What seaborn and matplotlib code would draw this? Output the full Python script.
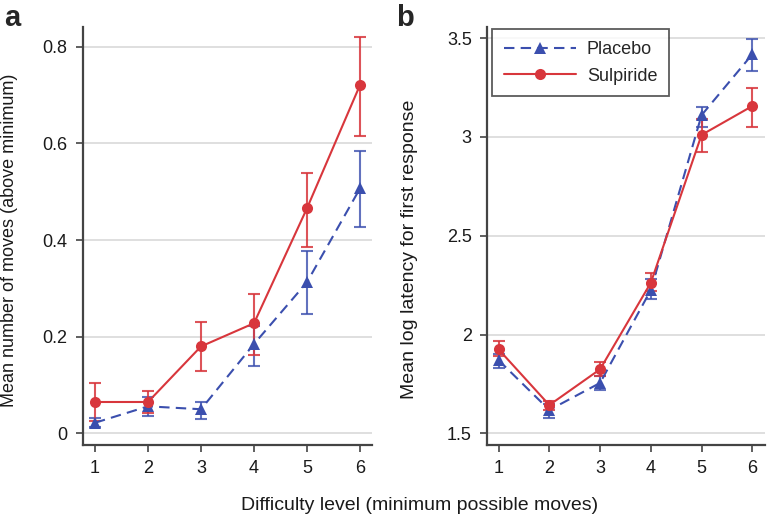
import numpy as np
import pandas as pd
import matplotlib
matplotlib.use("Agg")
import matplotlib.pyplot as plt
import seaborn as sns

sns.set_theme(style="white")
plt.rcParams['font.family'] = ['Liberation Sans', 'DejaVu Sans']

levels = [1, 2, 3, 4, 5, 6]
groups = ["Placebo", "Sulpiride"]

# Panel a: mean number of moves above minimum
moves_placebo = [0.022, 0.056, 0.050, 0.185, 0.313, 0.507]
moves_placebo_lo = [0.014, 0.035, 0.029, 0.139, 0.248, 0.428]
moves_placebo_hi = [0.031, 0.076, 0.066, 0.222, 0.377, 0.585]
moves_sulp = [0.065, 0.065, 0.180, 0.228, 0.466, 0.721]
moves_sulp_lo = [0.025, 0.042, 0.130, 0.162, 0.386, 0.615]
moves_sulp_hi = [0.105, 0.088, 0.230, 0.288, 0.538, 0.820]

# Panel b: mean log latency for first response
lat_placebo = [1.87, 1.618, 1.755, 2.225, 3.11, 3.418]
lat_placebo_lo = [1.83, 1.58, 1.72, 2.18, 3.05, 3.333]
lat_placebo_hi = [1.90, 1.65, 1.79, 2.28, 3.153, 3.494]
lat_sulp = [1.925, 1.643, 1.824, 2.262, 3.01, 3.156]
lat_sulp_lo = [1.89, 1.62, 1.79, 2.22, 2.925, 3.05]
lat_sulp_hi = [1.967, 1.665, 1.86, 2.31, 3.09, 3.246]

blue = "#3b4fae"
red = "#d8363c"
palette = {"Placebo": blue, "Sulpiride": red}

def make_df(p, s):
    return pd.DataFrame({
        "level": levels * 2,
        "value": list(p) + list(s),
        "group": ["Placebo"] * 6 + ["Sulpiride"] * 6,
    })

df_a = make_df(moves_placebo, moves_sulp)
df_b = make_df(lat_placebo, lat_sulp)

fig = plt.figure(figsize=(7.68, 5.2), dpi=100)
ax_a = fig.add_axes([83/768, 1-445/520, (372-83)/768, (445-27)/520])
ax_b = fig.add_axes([487/768, 1-445/520, (765-487)/768, (445-27)/520])

def draw(ax, df, errs):
    for g in groups:
        mean, lo, hi = errs[g]
        c = palette[g]
        ax.errorbar(levels, mean,
                    yerr=[np.array(mean) - np.array(lo), np.array(hi) - np.array(mean)],
                    fmt="none", ecolor=c, elinewidth=1.5, capsize=4, capthick=1.5,
                    alpha=0.8 if g == "Placebo" else 0.85, zorder=2)
    sns.lineplot(data=df, x="level", y="value", hue="group", style="group",
                 palette=palette, markers={"Placebo": "^", "Sulpiride": "o"},
                 dashes={"Placebo": (5, 3), "Sulpiride": ""},
                 markersize=8, markeredgewidth=0, linewidth=1.5, ax=ax, zorder=3,
                 legend=True)

draw(ax_a, df_a, {"Placebo": (moves_placebo, moves_placebo_lo, moves_placebo_hi),
                  "Sulpiride": (moves_sulp, moves_sulp_lo, moves_sulp_hi)})
draw(ax_b, df_b, {"Placebo": (lat_placebo, lat_placebo_lo, lat_placebo_hi),
                  "Sulpiride": (lat_sulp, lat_sulp_lo, lat_sulp_hi)})

for ax in (ax_a, ax_b):
    ax.set_xticks(levels)
    ax.set_xticklabels([str(l) for l in levels])
    ax.set_xlabel("")
    for s in ("top", "right"):
        ax.spines[s].set_visible(False)
    for s in ("left", "bottom"):
        ax.spines[s].set_color("#444444")
        ax.spines[s].set_linewidth(1.6)
    ax.tick_params(axis="both", direction="out", length=5, width=1.2, color="#444444",
                   labelsize=13, labelcolor="#1a1a1a", pad=6, left=True, bottom=True)
    ax.grid(axis="y", color="#d9d9d9", linewidth=1.2)
    ax.set_axisbelow(True)

ax_a.set_xlim(0.774, 6.226)
ax_a.set_ylim(-0.024, 0.841)
ax_a.set_yticks([0, 0.2, 0.4, 0.6, 0.8])
ax_a.set_yticklabels(["0", "0.2", "0.4", "0.6", "0.8"])
ax_a.set_ylabel("Mean number of moves (above minimum)", fontsize=13, color="#1a1a1a")
ax_a.yaxis.set_label_coords(-0.225, 0.49)
ax_a.get_legend().remove()

ax_b.set_xlim(0.772, 6.25)
ax_b.set_ylim(1.441, 3.556)
ax_b.set_yticks([1.5, 2, 2.5, 3, 3.5])
ax_b.set_yticklabels(["1.5", "2", "2.5", "3", "3.5"])
ax_b.set_ylabel("Mean log latency for first response", fontsize=14, color="#1a1a1a")
ax_b.yaxis.set_label_coords(-0.248, 0.469)

handles, labels = ax_b.get_legend_handles_labels()
ax_b.get_legend().remove()
leg = ax_b.legend(handles, labels, loc="upper left", bbox_to_anchor=(0.018, 0.995),
                  borderaxespad=0, fontsize=13, frameon=True, fancybox=False,
                  edgecolor="#333333", handlelength=4.0, handletextpad=0.6,
                  borderpad=0.65, labelspacing=0.55)
leg.get_frame().set_linewidth(1.3)

fig.text(4/768, 1-18/520, "a", fontsize=21, fontweight="bold", va="center", ha="left")
fig.text(396/768, 1-18/520, "b", fontsize=21, fontweight="bold", va="center", ha="left")
fig.text(420/768, 1-505/520, "Difficulty level (minimum possible moves)",
         fontsize=14, ha="center", va="center", color="#1a1a1a")

fig.savefig("out.png", dpi=100)
